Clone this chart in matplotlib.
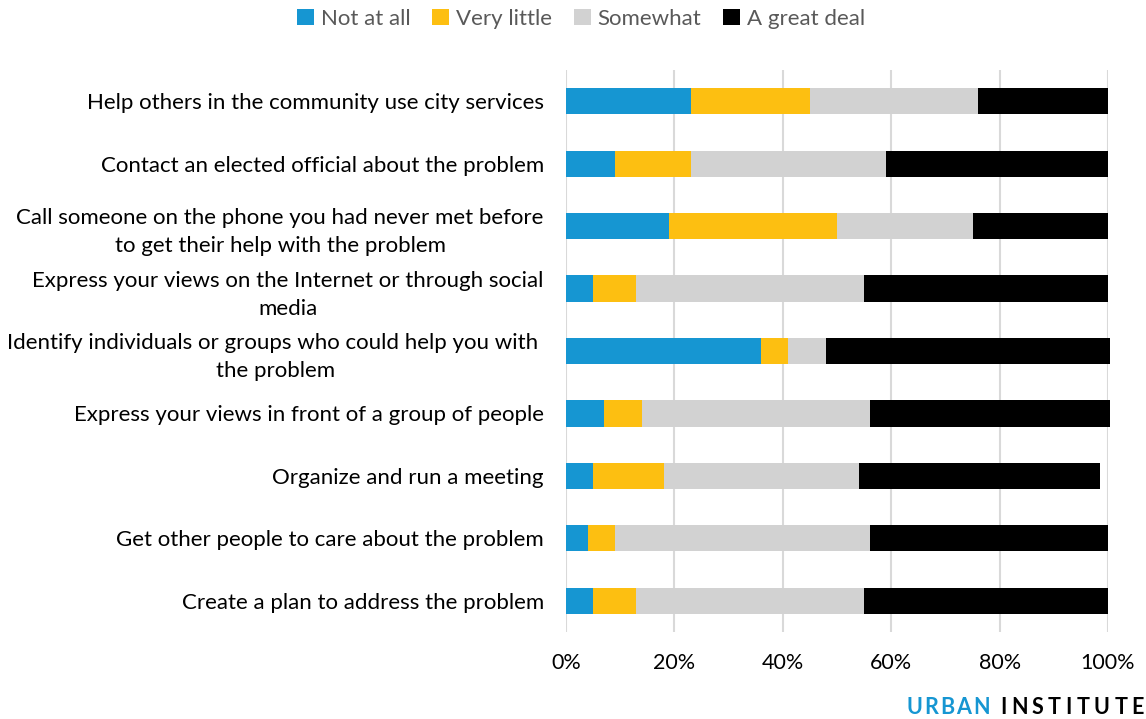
import matplotlib
matplotlib.use("Agg")
import matplotlib.pyplot as plt
import numpy as np

plt.rcParams['font.family'] = ['Lato', 'DejaVu Sans']

categories = [
    "Help others in the community use city services",
    "Contact an elected official about the problem",
    "Call someone on the phone you had never met before\nto get their help with the problem",
    "Express your views on the Internet or through social\nmedia",
    "Identify individuals or groups who could help you with \nthe problem",
    "Express your views in front of a group of people",
    "Organize and run a meeting",
    "Get other people to care about the problem",
    "Create a plan to address the problem",
]
series_names = ["Not at all", "Very little", "Somewhat", "A great deal"]
not_at_all   = [23, 9, 19, 5, 36, 7, 5, 4, 5]
very_little  = [22, 14, 31, 8, 5, 7, 13, 5, 8]
somewhat     = [31, 36, 25, 42, 7, 42, 36, 47, 42]
great_deal   = [24, 41, 25, 45, 52.4, 44.4, 44.6, 44, 45]
colors = ["#1696d2", "#fdbf11", "#d2d2d2", "#000000"]
xticks = [0, 20, 40, 60, 80, 100]

fig = plt.figure(figsize=(11.46, 7.19), dpi=100)
ax = fig.add_axes([566/1146, 1-632/719, (1108-566)/1146, (632-70)/719])

y = np.arange(len(categories))
left = np.zeros(len(categories))
handles = []
for vals, name, col in zip([not_at_all, very_little, somewhat, great_deal], series_names, colors):
    vals = np.array(vals, dtype=float)
    h = ax.barh(y, vals, left=left, height=0.42, color=col, label=name, zorder=3, clip_on=False)
    handles.append(h)
    left += vals

ax.set_ylim(len(categories) - 0.5, -0.5)
ax.set_xlim(0, 100)
ax.set_xticks(xticks)
ax.set_xticklabels([f"{t}%" for t in xticks])
ax.set_yticks(y)
ax.set_yticklabels(categories)
for lbl in ax.get_yticklabels():
    lbl.set_multialignment('center')
    lbl.set_linespacing(1.5)
ax.tick_params(axis='y', length=0, pad=16, labelsize=16, labelcolor='#000000')
ax.tick_params(axis='x', length=0, pad=15, labelsize=15.5, labelcolor='#000000')
ax.grid(axis='x', color='#d9d9d9', linewidth=1.5, zorder=0)
ax.set_axisbelow(True)
for s in ax.spines.values():
    s.set_visible(False)

leg = fig.legend(handles=handles, labels=series_names, loc='center', bbox_to_anchor=(0.507, 1-19/719),
                 ncol=4, frameon=False, fontsize=16, handlelength=0.75, handleheight=0.75,
                 handletextpad=0.3, columnspacing=1.0, labelcolor='#595959')

# wordmark with wide letter spacing, each word spread across its own span
fig.canvas.draw()
renderer = fig.canvas.get_renderer()
y_px = 714
for word, col, x0, x1 in [("URBAN", "#1696d2", 906, 990), ("INSTITUTE", "#000000", 1000, 1144)]:
    items = []
    for ch in word:
        t = fig.text(0, 1-y_px/719, ch, fontsize=15.5, fontweight='bold', color=col,
                     ha='left', va='baseline')
        items.append((t, t.get_window_extent(renderer).width))
    total = sum(w for _, w in items)
    track = (x1 - x0 - total) / (len(items) - 1)
    x = x0
    for t, w in items:
        t.set_x(x/1146)
        x += w + track

fig.savefig("out.png", dpi=100)
